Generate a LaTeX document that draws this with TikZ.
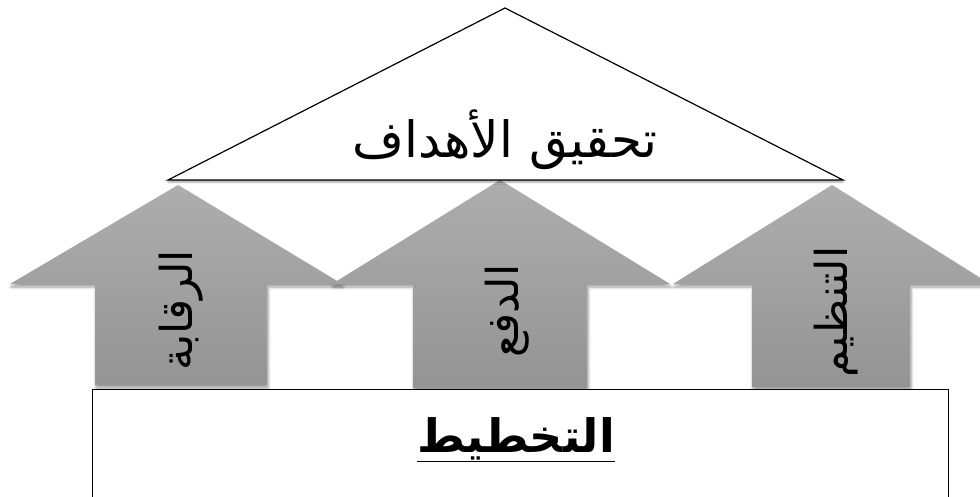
\documentclass[tikz,border=0pt]{standalone}
\usepackage{fontspec}
\TeXXeTstate=1
\newfontfamily\arabicfont[Script=Arabic]{DejaVu Sans}
\usetikzlibrary{shadows.blur}
\tikzset{
  uparrow/.style={top color=black!32, bottom color=black!42, draw=none,
    blur shadow={shadow xshift=1pt, shadow yshift=-3pt, shadow blur steps=6, shadow blur radius=3pt}},
  roof/.style={fill=white, draw=black, line width=1.2pt, line join=miter,
    blur shadow={shadow xshift=0pt, shadow yshift=-2pt, shadow blur steps=4, shadow blur radius=2pt}},
  base/.style={fill=white, draw=black, line width=1pt},
  vlabel/.style={rotate=90, font=\arabicfont\fontsize{44}{50}\selectfont, inner sep=0pt},
  tlabel/.style={font=\arabicfont\fontsize{50}{58}\selectfont, inner sep=0pt},
  blabel/.style={font=\arabicfont\bfseries\fontsize{46}{54}\selectfont, inner sep=0pt},
}
\begin{document}
\begin{tikzpicture}[x=1pt,y=-1pt]
\useasboundingbox (0,0) rectangle (980,497);
\clip (0,0) rectangle (980,497);
% arrows
\path[uparrow] (95,385) -- (95,284) -- (10,284) -- (178,185) -- (342,284) -- (267,284) -- (267,385) -- cycle;
\path[uparrow] (413,388) -- (413,284) -- (332,284) -- (500,180) -- (670,284) -- (587,284) -- (587,388) -- cycle;
\path[uparrow] (752,387) -- (752,284) -- (673,284) -- (832,185) -- (990,284) -- (910,284) -- (910,387) -- cycle;
% base rectangle
\draw[base] (92,389) rectangle (948,499);
% roof
\draw[roof] (505,8) -- (843,180) -- (168,180) -- cycle;
% labels
\node[tlabel] (goal) at (505,140) {\beginR تحقيق الأهداف\endR};
\node[blabel] (plan) at (516,440) {\underline{\beginR التخطيط\endR}};
\node[vlabel] (ctrl) at (181,310) {\beginR الرقابة\endR};
\node[vlabel] (push) at (507,311) {\beginR الدفع\endR};
\node[vlabel] (org) at (836,312) {\beginR التنظيم\endR};
\end{tikzpicture}
\end{document}
